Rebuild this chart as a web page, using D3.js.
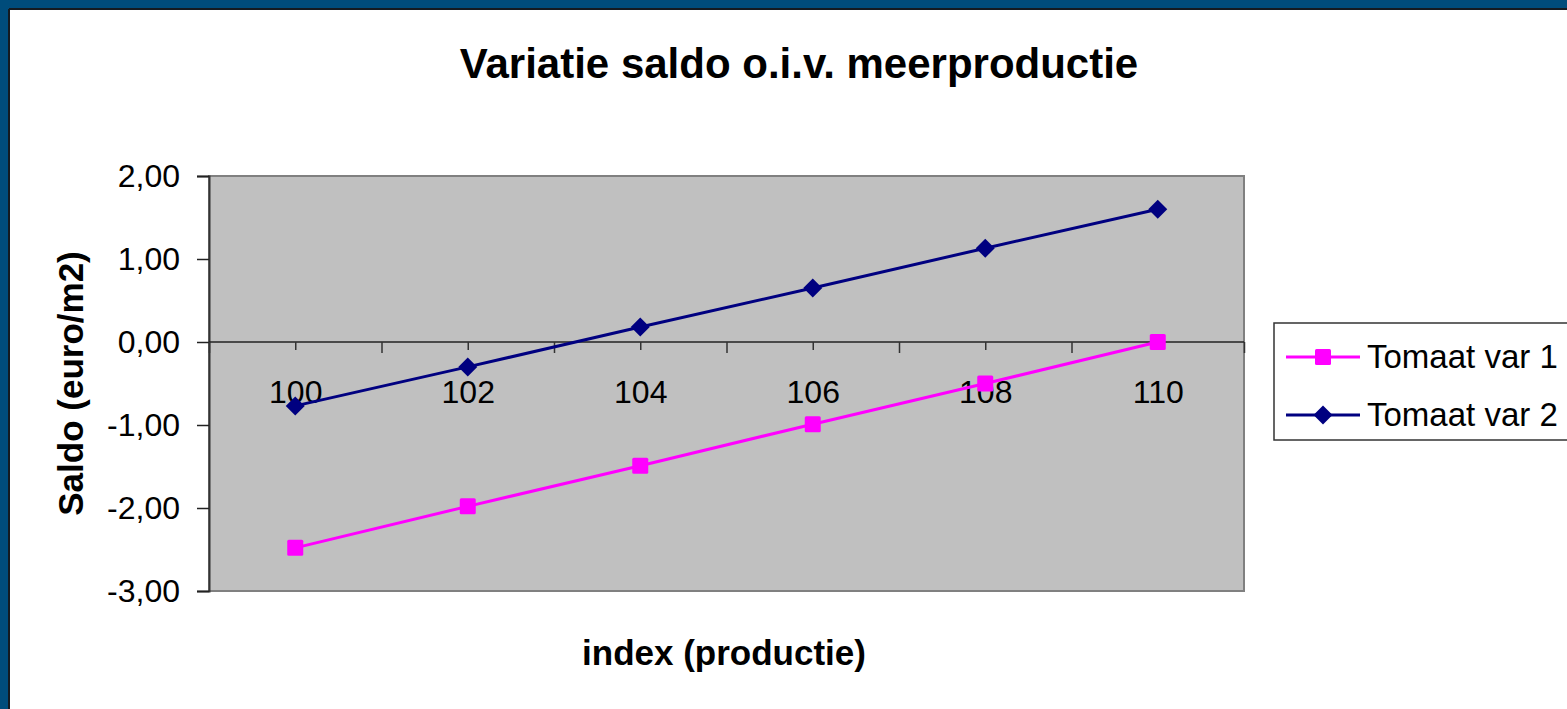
<!DOCTYPE html>
<html><head><meta charset="utf-8">
<script src="https://cdn.jsdelivr.net/npm/d3@7"></script>
<style>html,body{margin:0;padding:0;background:#fff;overflow:hidden}</style>
</head><body>
<svg id="c" width="1567" height="709"></svg>
<script>
const categories = [100, 102, 104, 106, 108, 110];
const seriesNames = ["Tomaat var 1", "Tomaat var 2"];
const var1 = [-2.48, -1.98, -1.49, -0.99, -0.50, 0.00];
const var2 = [-0.77, -0.30, 0.18, 0.65, 1.13, 1.60];
const yTicks = [2, 1, 0, -1, -2, -3];
const xMajorTicks = [99, 101, 103, 105, 107, 109, 111];
const xLabelTicks = [100, 102, 104, 106, 108, 110];
const title = "Variatie saldo o.i.v. meerproductie";
const xTitle = "index (productie)";
const yTitle = "Saldo (euro/m2)";

const svg = d3.select("#c");
const font = "'Liberation Sans', Arial, sans-serif";
const L = 209, R = 1244, T = 176, B = 591;
const x = d3.scaleLinear().domain([99, 111]).range([L, R]);
const y = d3.scaleLinear().domain([-3, 2]).range([B, T]);

// frame
svg.append("rect").attr("x", 0).attr("y", 0).attr("width", 1567).attr("height", 709).attr("fill", "#fff");
svg.append("rect").attr("x", 0).attr("y", 0).attr("width", 1567).attr("height", 9).attr("fill", "#004C7B");
svg.append("rect").attr("x", 0).attr("y", 0).attr("width", 9).attr("height", 709).attr("fill", "#004C7B");
svg.append("rect").attr("x", 9).attr("y", 8).attr("width", 1558).attr("height", 2).attr("fill", "#151a20");
svg.append("rect").attr("x", 8).attr("y", 9).attr("width", 2).attr("height", 700).attr("fill", "#151a20");

// plot area
svg.append("rect").attr("x", L).attr("y", T).attr("width", R - L).attr("height", B - T)
  .attr("fill", "#C0C0C0").attr("stroke", "#808080").attr("stroke-width", 2);

// y axis
const yAxis = d3.axisLeft(y).tickValues(yTicks).tickSize(12).tickPadding(17)
  .tickFormat(d => d3.format(".2f")(d).replace(".", ",").replace("\u2212", "-"));
const gy = svg.append("g").attr("transform", `translate(${L},0)`).call(yAxis);
gy.select(".domain").attr("stroke", "#333").attr("stroke-width", 2);
gy.selectAll(".tick line").attr("stroke", "#222").attr("stroke-width", 1.5);
gy.selectAll("text").attr("font-family", font).attr("font-size", 32).attr("fill", "#000");

// x axis at y=0
const gx = svg.append("g").attr("transform", `translate(0,${y(0)})`);
gx.call(d3.axisBottom(x).tickValues(xMajorTicks).tickSize(11).tickFormat(""));
gx.select(".domain").attr("stroke", "#222").attr("stroke-width", 1.5).attr("d", `M${L},0H${R}`);
gx.selectAll(".tick line").attr("stroke", "#333").attr("stroke-width", 1.5);
const gx2 = svg.append("g").attr("transform", `translate(0,${y(0)})`);
gx2.call(d3.axisBottom(x).tickValues(xLabelTicks).tickSize(8).tickPadding(30).tickFormat(d => d));
gx2.select(".domain").remove();
gx2.selectAll(".tick line").attr("stroke", "#333").attr("stroke-width", 1.5);
gx2.selectAll("text").attr("font-family", font).attr("font-size", 32).attr("fill", "#000");

// series
const series = [
  {name: seriesNames[0], vals: var1, color: "#FF00FF", shape: "square"},
  {name: seriesNames[1], vals: var2, color: "#000080", shape: "diamond"}
];
const line = d3.line().x((d, i) => x(categories[i])).y(d => y(d));
function marker(g, shape, color, cx, cy) {
  if (shape === "square") {
    g.append("rect").attr("x", cx - 8).attr("y", cy - 8).attr("width", 16).attr("height", 16)
      .attr("rx", 1.5).attr("fill", color);
  } else {
    const s = 9.5;
    g.append("path").attr("d", `M${cx},${cy - s}L${cx + s},${cy}L${cx},${cy + s}L${cx - s},${cy}Z`)
      .attr("fill", color);
  }
}
series.forEach(s => {
  svg.append("path").datum(s.vals).attr("d", line).attr("fill", "none")
    .attr("stroke", s.color).attr("stroke-width", 3);
  const g = svg.append("g");
  s.vals.forEach((v, i) => marker(g, s.shape, s.color, x(categories[i]), y(v)));
});

// titles
svg.append("text").attr("x", 799).attr("y", 78).attr("text-anchor", "middle")
  .attr("font-family", font).attr("font-weight", "bold").attr("font-size", 42).text(title);
svg.append("text").attr("x", 724).attr("y", 665).attr("text-anchor", "middle")
  .attr("font-family", font).attr("font-weight", "bold").attr("font-size", 35).text(xTitle);
svg.append("text").attr("transform", `translate(83,${(T + B) / 2}) rotate(-90)`).attr("text-anchor", "middle")
  .attr("font-family", font).attr("font-weight", "bold").attr("font-size", 35).text(yTitle);

// legend
svg.append("rect").attr("x", 1274).attr("y", 323).attr("width", 310).attr("height", 117)
  .attr("fill", "#fff").attr("stroke", "#333").attr("stroke-width", 1.5);
const legY = [357, 415];
series.forEach((s, i) => {
  const g = svg.append("g");
  g.append("line").attr("x1", 1286).attr("x2", 1360).attr("y1", legY[i]).attr("y2", legY[i])
    .attr("stroke", s.color).attr("stroke-width", 3);
  marker(g, s.shape, s.color, 1323, legY[i]);
  g.append("text").attr("x", 1367).attr("y", legY[i] + 11).attr("font-family", font)
    .attr("font-size", 33).text(s.name);
});
</script>
</body></html>
